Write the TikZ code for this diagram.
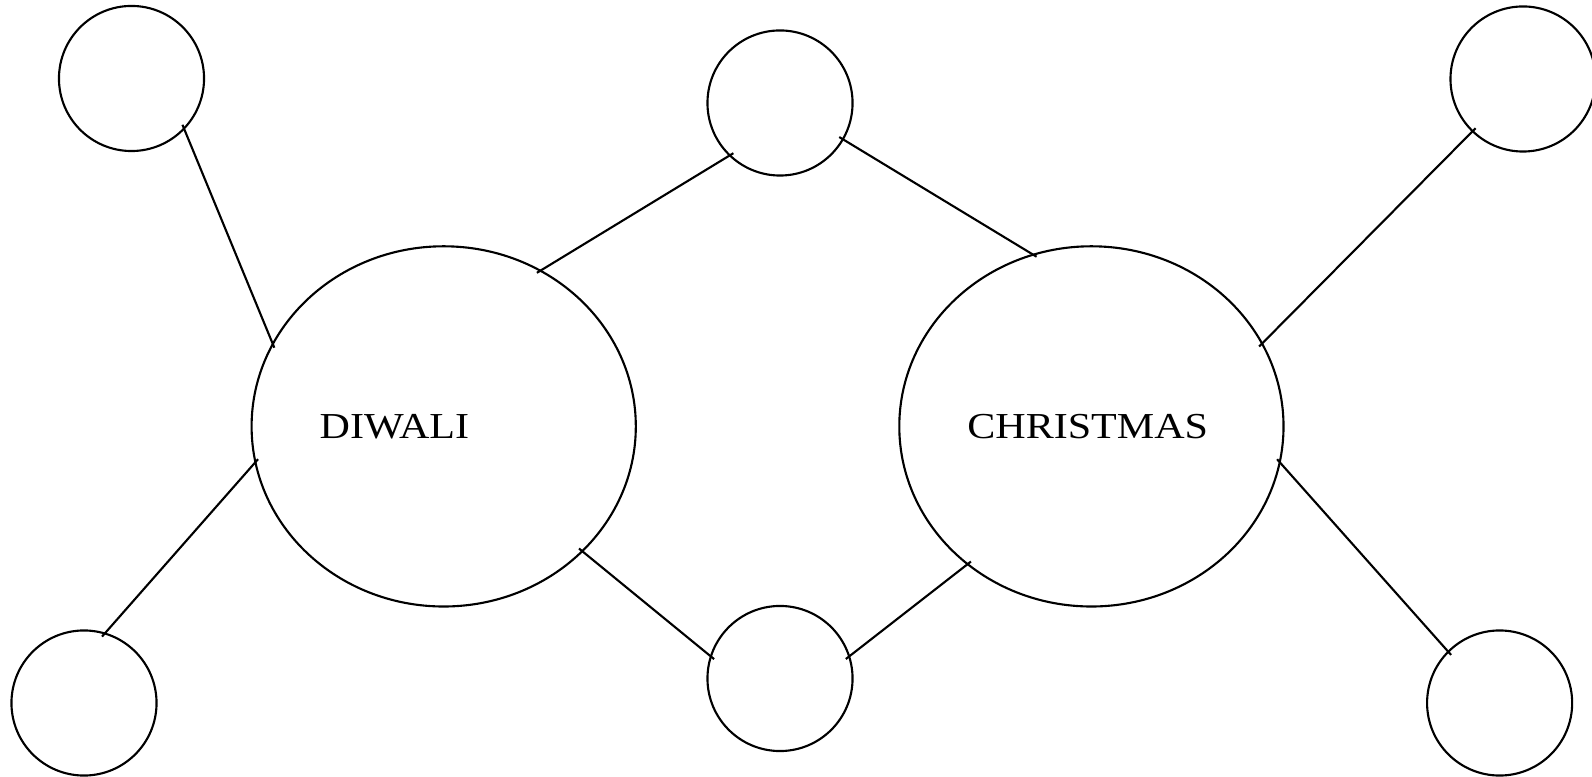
\documentclass[tikz,border=0pt]{standalone}
\usepackage{fontspec}
\newfontfamily\festfont[FakeStretch=1.15]{Liberation Serif}
\usetikzlibrary{shapes.geometric}
\tikzstyle{festnode} = [ellipse, draw, line width=0.6pt, minimum width=3.84cm, minimum height=3.6cm, text width=2.48cm, align=left, text height=0.245cm, text depth=0cm, inner sep=0pt, font=\festfont\fontsize{10.4}{12}\selectfont]
\tikzstyle{smallnode} = [circle, draw, line width=0.6pt, minimum size=1.45cm, inner sep=0pt]
\tikzstyle{link} = [line width=0.6pt, shorten <=-1.5pt, shorten >=-1.5pt]
\begin{document}
\begin{tikzpicture}[x=0.01cm, y=-0.01cm]
\useasboundingbox (0,0) rectangle (1592,777);
% Festivals
\node[festnode] (diwali) at (443.7,426.4) {DIWALI};
\node[festnode] (christmas) at (1091.4,426.4) {CHRISTMAS};

% Top circles
\node[smallnode] (topleft) at (131.5,78.5) {};
\node[smallnode] (topmid) at (780,103) {};
\node[smallnode] (topright) at (1523,79) {};

% Bottom circles
\node[smallnode] (botleft) at (84,703) {};
\node[smallnode] (botmid) at (780,678.5) {};
\node[smallnode] (botright) at (1499.6,703) {};

\draw[link] (topleft.316) -- (diwali.154);
\draw[link] (diwali.58) -- (topmid.226);
\draw[link] (topmid.330) -- (christmas.109);
\draw[link] (christmas.26) -- (topright.226);
\draw[link] (diwali.191) -- (botleft.73);
\draw[link] (diwali.318) -- (botmid.162);
\draw[link] (botmid.18) -- (christmas.228);
\draw[link] (christmas.349) -- (botright.135);
\end{tikzpicture}
\end{document}
